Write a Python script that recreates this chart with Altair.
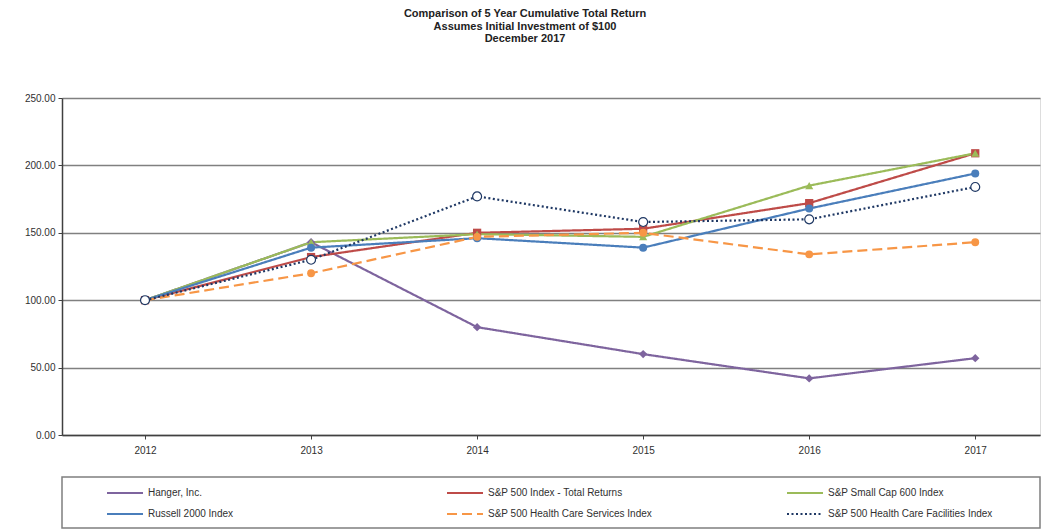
import altair as alt
import pandas as pd

years = [2012, 2013, 2014, 2015, 2016, 2017]
series_names = [
    "Hanger, Inc.",
    "S&P 500 Index - Total Returns",
    "S&P Small Cap 600 Index",
    "Russell 2000 Index",
    "S&P 500 Health Care Services Index",
    "S&P 500 Health Care Facilities Index",
]
hanger = [100, 143, 80, 60, 42, 57]
sp500 = [100, 132, 150, 153, 172, 209]
smallcap = [100, 143, 149, 147, 185, 209]
russell = [100, 139, 146, 139, 168, 194]
hc_services = [100, 120, 147, 150, 134, 143]
hc_facilities = [100, 130, 177, 158, 160, 184]

colors = ["#7E649E", "#BE4B48", "#9BBB59", "#4A7EBB", "#F79646", "#1F3864"]
shapes = ["diamond", "square", "triangle-up", "circle", "circle", "circle"]
marker_sizes = [70, 60, 65, 75, 95, 80]
dashes = [[1, 0], [1, 0], [1, 0], [1, 0], [10, 5], [2, 2.5]]
y_ticks = [0, 50, 100, 150, 200, 250]

# legend fills column by column: reorder so it reads row by row like the original
legend_order = [0, 3, 1, 4, 2, 5]
leg_names = [series_names[i] for i in legend_order]
leg_colors = [colors[i] for i in legend_order]
leg_dashes = [dashes[i] for i in legend_order]

all_values = [hanger, sp500, smallcap, russell, hc_services, hc_facilities]
rows = []
for idx, (name, vals) in enumerate(zip(series_names, all_values)):
    for yr, v in zip(years, vals):
        rows.append({"series": name, "marker": name, "year": yr, "value": v, "order": idx})
df = pd.DataFrame(rows)

FONT = "Liberation Sans"

x_enc = alt.X("year:Q",
              scale=alt.Scale(domain=[2011.5, 2017.39], nice=False, zero=False),
              axis=alt.Axis(values=years, format="d", title=None, grid=False,
                            domainColor="#404040", domainWidth=1.5,
                            tickColor="#404040", tickSize=4,
                            labelFont=FONT, labelFontSize=10, labelColor="#303030",
                            labelPadding=6))
y_enc = alt.Y("value:Q",
              scale=alt.Scale(domain=[0, 250], nice=False),
              axis=alt.Axis(values=y_ticks, format=".2f", title=None,
                            grid=True, gridColor="#808080", gridWidth=1.6,
                            domainColor="#404040", domainWidth=1.5,
                            tickColor="#404040", tickSize=4,
                            labelFont=FONT, labelFontSize=10, labelColor="#303030",
                            labelPadding=3))

color_scale = alt.Scale(domain=leg_names, range=leg_colors)

legend = alt.Legend(title=None, orient="none", legendX=68, legendY=388,
                    columns=3, gridAlign="all", columnPadding=130, rowPadding=9,
                    padding=0, symbolType="M-5,0H1", symbolSize=144,
                    symbolStrokeWidth=2, labelFont=FONT, labelFontSize=10,
                    labelColor="#303030", labelOffset=4, labelLimit=300)

lines = alt.Chart(df).mark_line(strokeWidth=2.2).encode(
    x=x_enc, y=y_enc,
    color=alt.Color("series:N", scale=color_scale, legend=legend),
    strokeDash=alt.StrokeDash("series:N", scale=alt.Scale(domain=leg_names, range=leg_dashes), legend=legend),
    order="year:Q",
)

filled_pts = alt.Chart(df).transform_filter(
    alt.datum.series != series_names[5]
).mark_point(filled=True, opacity=1).encode(
    x="year:Q", y="value:Q",
    color=alt.Color("series:N", scale=color_scale, legend=None),
    shape=alt.Shape("marker:N", scale=alt.Scale(domain=series_names, range=shapes), legend=None),
    size=alt.Size("marker:N", scale=alt.Scale(domain=series_names, range=marker_sizes), legend=None),
)

open_pts = alt.Chart(df).transform_filter(
    alt.datum.series == series_names[5]
).mark_point(shape="circle", size=80, fill="white", filled=False, opacity=1,
             stroke=colors[5], strokeWidth=1.2).encode(
    x="year:Q", y="value:Q",
)

box = alt.Chart(pd.DataFrame({"a": [0]})).mark_rect(
    fill="white", stroke="#7f7f7f", strokeWidth=1.5
).encode(x=alt.value(0), x2=alt.value(978), y=alt.value(379), y2=alt.value(430))

chart = alt.layer(box, lines, filled_pts, open_pts).properties(
    width=978, height=337,
    padding={"left": 62, "top": 98, "right": 7, "bottom": 96},
    autosize=alt.AutoSizeParams(type="none"),
    title=alt.TitleParams(
        text=["Comparison of 5 Year Cumulative Total Return",
              "Assumes  Initial Investment of $100",
              "December 2017"],
        font=FONT, fontSize=11, fontWeight="bold", color="#222222",
        anchor="middle", dx=-26, offset=49, lineHeight=12.5),
).resolve_scale(shape="independent", size="independent").configure_view(stroke=None).configure(background="white")

chart.save("out.html", embed_options={"renderer": "svg", "actions": False})
